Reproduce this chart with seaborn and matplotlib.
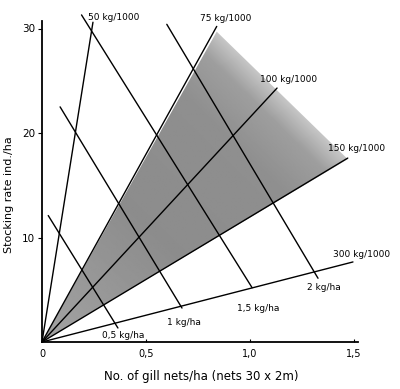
import numpy as np
import pandas as pd
import matplotlib
matplotlib.use("Agg")
import matplotlib.pyplot as plt
from matplotlib.patches import Polygon
import seaborn as sns

sns.set_style("ticks")
plt.rcParams['font.family'] = ['DejaVu Sans']
plt.rcParams['text.color'] = 'black'
plt.rcParams['axes.labelcolor'] = 'black'
plt.rcParams['xtick.color'] = 'black'
plt.rcParams['ytick.color'] = 'black'
plt.rcParams['axes.edgecolor'] = 'black'

# lines through the origin: fish per net ratio
ratio_labels = ["50 kg/1000", "75 kg/1000", "100 kg/1000", "150 kg/1000", "300 kg/1000"]
ratio_end_x = [0.245, 0.84, 1.13, 1.47, 1.495]
ratio_end_y = [30.6, 30.2, 24.3, 17.6, 7.66]

# iso-catch lines
catch_labels = ["0,5 kg/ha", "1 kg/ha", "1,5 kg/ha", "2 kg/ha"]
catch_start_x = [0.03, 0.087, 0.19, 0.60]
catch_start_y = [12.1, 22.5, 31.3, 30.4]
catch_end_x = [0.365, 0.673, 1.01, 1.327]
catch_end_y = [1.34, 3.25, 5.2, 6.1]

# shaded zone corners (between 75 and 150 kg/1000)
shade_x = [0.0, 0.84, 1.47]
shade_y = [0.0, 29.7, 17.5]

xticks = [0, 0.5, 1.0, 1.5]
xticklabels = ["0", "0,5", "1,0", "1,5"]
yticks = [10, 20, 30]

rows = []
for i, lab in enumerate(ratio_labels):
    rows.append((lab, 0.0, 0.0))
    rows.append((lab, ratio_end_x[i], ratio_end_y[i]))
for i, lab in enumerate(catch_labels):
    rows.append((lab, catch_start_x[i], catch_start_y[i]))
    rows.append((lab, catch_end_x[i], catch_end_y[i]))
df = pd.DataFrame(rows, columns=["line", "x", "y"])

fig = plt.figure(figsize=(4.0, 3.89), dpi=100)
ax = fig.add_axes([42 / 400, 47 / 389, 332.8 / 400, 334.4 / 389])
ax.set_xlim(0, 1.6)
ax.set_ylim(0, 32)

# shaded zone with soft gradient
poly = Polygon(list(zip(shade_x, shade_y)), closed=True, facecolor="none", edgecolor="none")
ax.add_patch(poly)
gx, gy = np.meshgrid(np.linspace(0, 1.6, 400), np.linspace(0, 32, 400))
# express each point as u*V1 + w*V2; t = u + w is 0 at origin, 1 on the outer edge
m = np.array([[shade_x[1], shade_x[2]], [shade_y[1], shade_y[2]]])
inv = np.linalg.inv(m)
u = inv[0, 0] * gx + inv[0, 1] * gy
w = inv[1, 0] * gx + inv[1, 1] * gy
t = u + w
shade = np.interp(t, [0.0, 0.45, 0.8, 0.93, 1.0], [0.64, 0.55, 0.56, 0.62, 0.78])
img = ax.imshow(shade, extent=[0, 1.6, 0, 32], origin="lower", cmap="gray",
                vmin=0, vmax=1, aspect="auto", zorder=1, interpolation="bilinear")
img.set_clip_path(poly)

sns.lineplot(data=df, x="x", y="y", units="line", estimator=None, color="black",
             linewidth=1.0, ax=ax, zorder=3, legend=False)
for line in ax.lines:
    line.set_clip_on(False)

fs = 6.5
ratio_pos = [(0.221, 31.1), (0.76, 31.0), (1.048, 25.1), (1.375, 18.5), (1.399, 8.35)]
for lab, (tx, ty) in zip(ratio_labels, ratio_pos):
    ax.text(tx, ty, lab, fontsize=fs, ha="left", va="center", zorder=4)
catch_pos = [(0.288, 0.6), (0.60, 1.9), (0.9375, 3.25), (1.274, 5.26)]
for lab, (tx, ty) in zip(catch_labels, catch_pos):
    ax.text(tx, ty, lab, fontsize=fs, ha="left", va="center", zorder=4)

sns.despine(ax=ax)
ax.spines["left"].set_bounds(0, 30.7)
ax.spines["bottom"].set_bounds(0, 1.52)
ax.spines["left"].set_linewidth(1.3)
ax.spines["bottom"].set_linewidth(1.3)
ax.set_xticks(xticks)
ax.set_xticklabels(xticklabels)
ax.set_yticks(yticks)
ax.tick_params(axis="x", direction="in", length=2, labelsize=7, pad=5)
ax.tick_params(axis="y", direction="out", length=3, labelsize=7.5, pad=2)
ax.set_xlabel("No. of gill nets/ha (nets 30 x 2m)", fontsize=8.5)
ax.xaxis.set_label_coords(0.48, -0.085)
ax.set_ylabel("Stocking rate ind./ha", fontsize=8, labelpad=12)
ax.yaxis.set_label_coords(-0.085, 0.44)
ax.set_facecolor("white")

fig.savefig("out.png", dpi=100)
